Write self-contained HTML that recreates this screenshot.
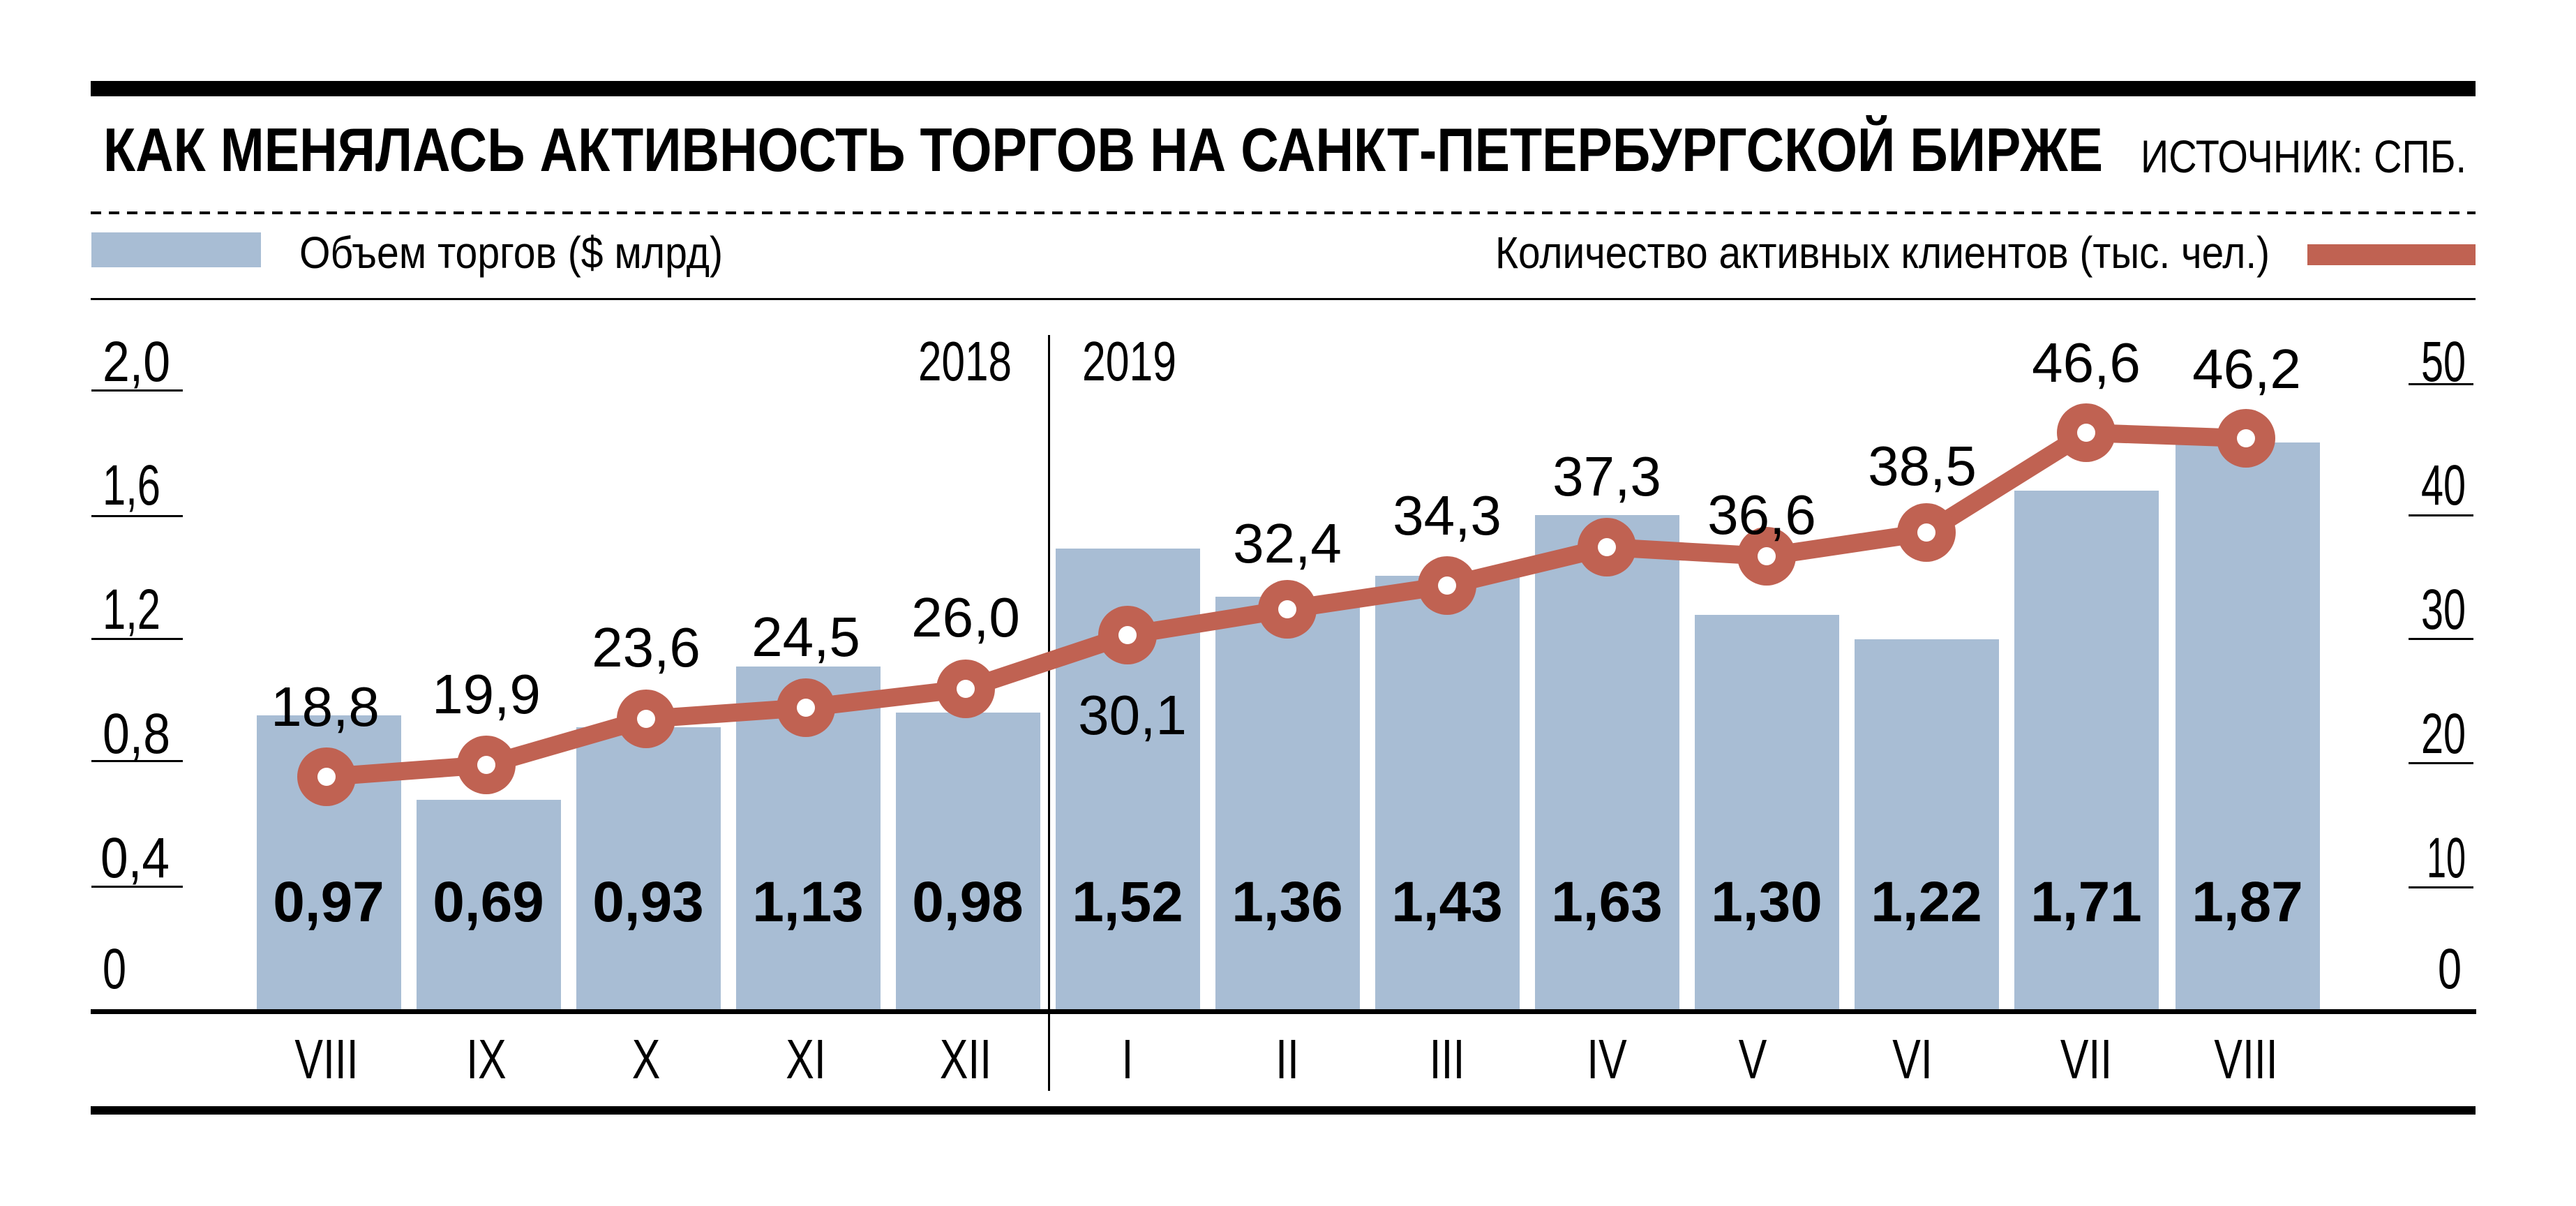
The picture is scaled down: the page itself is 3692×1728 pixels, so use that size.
<!DOCTYPE html>
<html><head><meta charset="utf-8"><style>
html,body{margin:0;padding:0;background:#fff;}
svg{display:block;}
text{font-family:"Liberation Sans",sans-serif;fill:#000;}
</style></head><body>
<svg width="3692" height="1728" viewBox="0 0 3692 1728" xmlns="http://www.w3.org/2000/svg">
<rect x="130" y="116" width="3418" height="22" fill="#000"/>
<text x="148" y="245" font-size="88" font-weight="bold" textLength="2866" lengthAdjust="spacingAndGlyphs">КАК МЕНЯЛАСЬ АКТИВНОСТЬ ТОРГОВ НА САНКТ-ПЕТЕРБУРГСКОЙ БИРЖЕ</text>
<text x="3068" y="247" font-size="66" textLength="467" lengthAdjust="spacingAndGlyphs">ИСТОЧНИК: СПБ.</text>
<line x1="130" y1="305" x2="3548" y2="305" stroke="#000" stroke-width="4" stroke-dasharray="15 11"/>
<rect x="131" y="333" width="243" height="50" fill="#a8bdd4"/>
<text x="429" y="384" font-size="64" textLength="607" lengthAdjust="spacingAndGlyphs">Объем торгов ($ млрд)</text>
<text x="2143" y="384" font-size="64" textLength="1110" lengthAdjust="spacingAndGlyphs">Количество активных клиентов (тыс. чел.)</text>
<rect x="3307" y="350" width="241" height="30" fill="#c06252"/>
<rect x="130" y="427" width="3418" height="3" fill="#000"/>

<!-- left ticks -->
<g font-size="82">
<text x="147" y="546" textLength="97" lengthAdjust="spacingAndGlyphs">2,0</text>
<text x="147" y="723" textLength="83" lengthAdjust="spacingAndGlyphs">1,6</text>
<text x="147" y="901" textLength="83" lengthAdjust="spacingAndGlyphs">1,2</text>
<text x="147" y="1079" textLength="97" lengthAdjust="spacingAndGlyphs">0,8</text>
<text x="144" y="1257" textLength="99" lengthAdjust="spacingAndGlyphs">0,4</text>
<text x="147" y="1416" textLength="34" lengthAdjust="spacingAndGlyphs">0</text>
</g>
<g fill="#000">
<rect x="131" y="558" width="131" height="3"/>
<rect x="131" y="738" width="131" height="3"/>
<rect x="131" y="914" width="131" height="3"/>
<rect x="131" y="1089" width="131" height="3"/>
<rect x="131" y="1269" width="131" height="3"/>
</g>
<!-- right ticks -->
<g font-size="82" text-anchor="end">
<text x="3534" y="546" textLength="64" lengthAdjust="spacingAndGlyphs">50</text>
<text x="3534" y="723" textLength="64" lengthAdjust="spacingAndGlyphs">40</text>
<text x="3534" y="901" textLength="64" lengthAdjust="spacingAndGlyphs">30</text>
<text x="3534" y="1079" textLength="64" lengthAdjust="spacingAndGlyphs">20</text>
<text x="3534" y="1257" textLength="56" lengthAdjust="spacingAndGlyphs">10</text>
<text x="3528" y="1416" textLength="34" lengthAdjust="spacingAndGlyphs">0</text>
</g>
<g fill="#000">
<rect x="3452" y="549" width="93" height="3"/>
<rect x="3452" y="737" width="93" height="3"/>
<rect x="3452" y="914" width="93" height="3"/>
<rect x="3452" y="1092" width="93" height="3"/>
<rect x="3452" y="1270" width="93" height="3"/>
</g>

<!-- bars -->
<g fill="#a8bdd4">
<rect x="368" y="1025" width="207" height="422"/>
<rect x="597" y="1146" width="207" height="301"/>
<rect x="826" y="1042" width="207" height="405"/>
<rect x="1055" y="955" width="207" height="492"/>
<rect x="1284" y="1021" width="207" height="426"/>
<rect x="1513" y="786" width="207" height="661"/>
<rect x="1742" y="855" width="207" height="592"/>
<rect x="1971" y="825" width="207" height="622"/>
<rect x="2200" y="738" width="207" height="709"/>
<rect x="2429" y="881" width="207" height="566"/>
<rect x="2658" y="916" width="207" height="531"/>
<rect x="2887" y="703" width="207" height="744"/>
<rect x="3118" y="634" width="207" height="813"/>
</g>

<!-- axis -->
<rect x="130" y="1446" width="3419" height="7" fill="#000"/>
<rect x="1502" y="480" width="3" height="1083" fill="#000"/>
<g font-size="80">
<text x="1316" y="545" textLength="134" lengthAdjust="spacingAndGlyphs">2018</text>
<text x="1551" y="545" textLength="135" lengthAdjust="spacingAndGlyphs">2019</text>
</g>

<!-- line -->
<polyline fill="none" stroke="#c06252" stroke-width="26" stroke-linejoin="round" points="468,1113 697,1096 926,1030 1155,1014 1384,987 1616,910 1845,873 2074,839 2303,784 2532,797 2761,763 2990,620 3219,628"/>
<g fill="#c06252">
<circle cx="468" cy="1113" r="42"/><circle cx="697" cy="1096" r="42"/><circle cx="926" cy="1030" r="42"/><circle cx="1155" cy="1014" r="42"/><circle cx="1384" cy="987" r="42"/><circle cx="1616" cy="910" r="42"/><circle cx="1845" cy="873" r="42"/><circle cx="2074" cy="839" r="42"/><circle cx="2303" cy="784" r="42"/><circle cx="2532" cy="797" r="42"/><circle cx="2761" cy="763" r="42"/><circle cx="2990" cy="620" r="42"/><circle cx="3219" cy="628" r="42"/>
</g>
<g fill="#fff">
<circle cx="468" cy="1113" r="13"/><circle cx="697" cy="1096" r="13"/><circle cx="926" cy="1030" r="13"/><circle cx="1155" cy="1014" r="13"/><circle cx="1384" cy="987" r="13"/><circle cx="1616" cy="910" r="13"/><circle cx="1845" cy="873" r="13"/><circle cx="2074" cy="839" r="13"/><circle cx="2303" cy="784" r="13"/><circle cx="2532" cy="797" r="13"/><circle cx="2761" cy="763" r="13"/><circle cx="2990" cy="620" r="13"/><circle cx="3219" cy="628" r="13"/>
</g>
<g font-size="80" text-anchor="middle">
<text x="466" y="1040">18,8</text>
<text x="697" y="1022">19,9</text>
<text x="926" y="955">23,6</text>
<text x="1155" y="940">24,5</text>
<text x="1384" y="912">26,0</text>
<text x="1623" y="1052">30,1</text>
<text x="1845" y="806">32,4</text>
<text x="2074" y="766">34,3</text>
<text x="2303" y="710">37,3</text>
<text x="2525" y="765">36,6</text>
<text x="2755" y="695">38,5</text>
<text x="2990" y="547">46,6</text>
<text x="3220" y="556">46,2</text>
</g>
<g font-size="82" font-weight="bold" text-anchor="middle">
<text x="471" y="1320">0,97</text>
<text x="700" y="1320">0,69</text>
<text x="929" y="1320">0,93</text>
<text x="1158" y="1320">1,13</text>
<text x="1387" y="1320">0,98</text>
<text x="1616" y="1320">1,52</text>
<text x="1845" y="1320">1,36</text>
<text x="2074" y="1320">1,43</text>
<text x="2303" y="1320">1,63</text>
<text x="2532" y="1320">1,30</text>
<text x="2761" y="1320">1,22</text>
<text x="2990" y="1320">1,71</text>
<text x="3221" y="1320">1,87</text>
</g>
<g font-size="80" text-anchor="middle">
<text transform="translate(468,1545) scale(0.76,1)">VIII</text>
<text transform="translate(697,1545) scale(0.76,1)">IX</text>
<text transform="translate(926,1545) scale(0.76,1)">X</text>
<text transform="translate(1155,1545) scale(0.76,1)">XI</text>
<text transform="translate(1384,1545) scale(0.76,1)">XII</text>
<text transform="translate(1616,1545) scale(0.76,1)">I</text>
<text transform="translate(1845,1545) scale(0.76,1)">II</text>
<text transform="translate(2074,1545) scale(0.76,1)">III</text>
<text transform="translate(2303,1545) scale(0.76,1)">IV</text>
<text transform="translate(2512,1545) scale(0.76,1)">V</text>
<text transform="translate(2741,1545) scale(0.76,1)">VI</text>
<text transform="translate(2990,1545) scale(0.76,1)">VII</text>
<text transform="translate(3219,1545) scale(0.76,1)">VIII</text>
</g>
<rect x="130" y="1585" width="3418" height="12" fill="#000"/>
</svg>
</body></html>
